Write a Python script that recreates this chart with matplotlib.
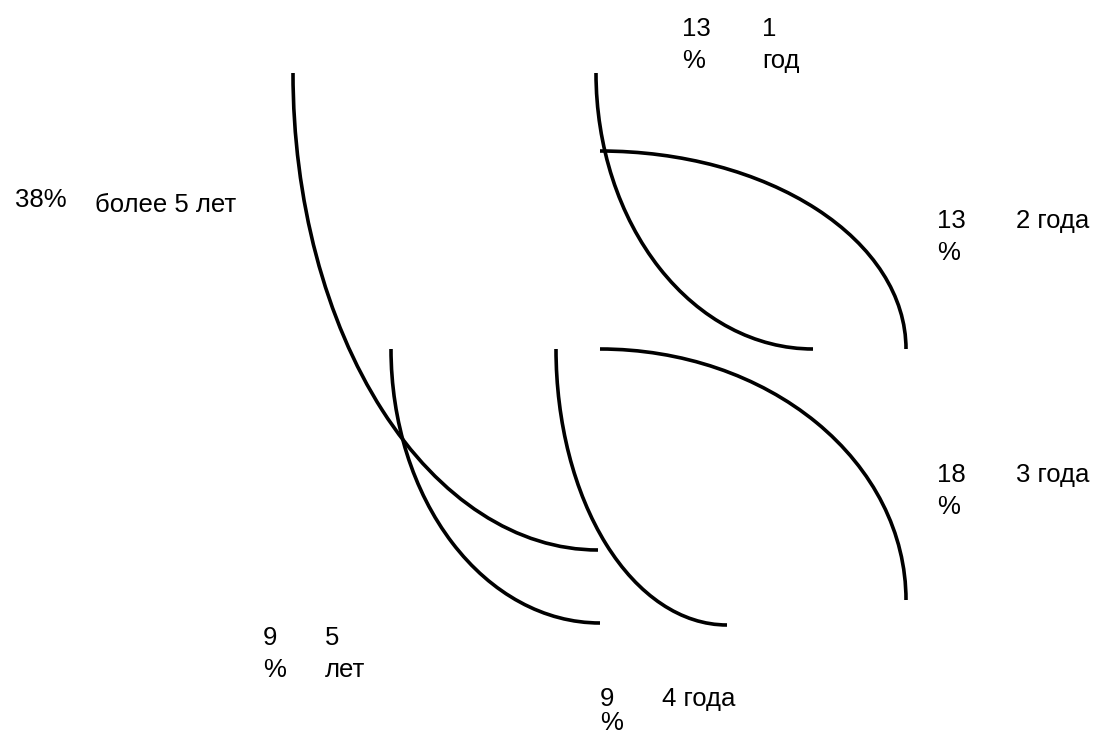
import matplotlib
matplotlib.use("Agg")
import matplotlib.pyplot as plt
from matplotlib.patches import Arc

# data from the chart (share of respondents by period)
categories = ["1 год", "2 года", "3 года", "4 года", "5 лет", "более 5 лет"]
percents = [13, 13, 18, 9, 9, 38]

# layout of the labels, in pixels: x of percent, top y of percent,
# x of category, top y of category, wrap percent, wrap category, linespacing
label_pos = [
    (682, 17, 762, 17, True, True, 1.42),
    (937, 209, 1016, 209, True, False, 1.42),
    (937, 463, 1016, 463, True, False, 1.42),
    (600, 687, 662, 687, True, False, 1.02),
    (263, 626, 325, 626, True, True, 1.42),
    (15, 188, 95, 193, False, False, 1.42),
]
# broken slice outlines: centre x, centre y, rx, ry, theta1, theta2
arc_shapes = [
    (598, 73, 305, 477, 90, 180),
    (813, 73, 217, 276, 90, 180),
    (600, 349, 306, 198, 270, 360),
    (600, 600, 306, 251, 270, 360),
    (727, 349, 171, 276, 90, 180),
    (600, 349, 209, 274, 90, 180),
]


def draw_arcs(ax):
    for cx, cy, rx, ry, t1, t2 in arc_shapes:
        ax.add_patch(Arc((cx, cy), 2 * rx, 2 * ry, theta1=t1, theta2=t2,
                         color="black", lw=2.6))


def draw_labels(ax):
    for cat, pct, pos in zip(categories, percents, label_pos):
        xp, yp, xc, yc, wp, wc, ls = pos
        pct_txt = f"{pct}\n%" if wp else f"{pct}%"
        cat_txt = cat.replace(" ", "\n") if wc else cat
        for x, y, t in ((xp, yp, pct_txt), (xc, yc, cat_txt)):
            ax.text(x, y, t, fontsize=18.5, family="Liberation Sans",
                    ha="left", va="top", linespacing=ls)


def main():
    fig = plt.figure(figsize=(10.95, 7.36), dpi=100)
    ax = fig.add_axes([0, 0, 1, 1])
    ax.set_xlim(0, 1095)
    ax.set_ylim(736, 0)
    ax.axis("off")
    draw_arcs(ax)
    draw_labels(ax)
    fig.savefig("out.png", dpi=100)


if __name__ == "__main__":
    main()
